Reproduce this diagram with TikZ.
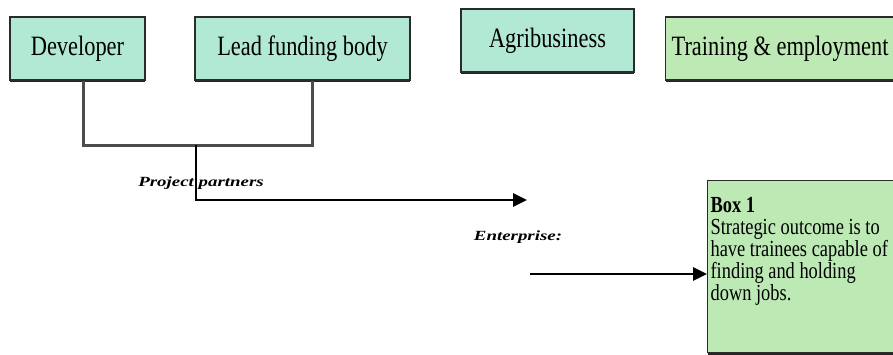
\documentclass[tikz,border=0pt]{standalone}
\usepackage{fontspec}
\setmainfont{Liberation Serif}[FakeStretch=0.8]
\newfontfamily\labelfont{Liberation Serif}[FakeStretch=1.35]
\usetikzlibrary{arrows.meta,shadows}

\definecolor{mintfill}{HTML}{B2E9D5}
\definecolor{greenfill}{HTML}{BDE9B5}
\definecolor{edgegray}{HTML}{2B2B2B}

\tikzset{
  partnerbox/.style={draw=edgegray, line width=1.2pt, fill=mintfill,
    inner sep=0pt, font=\fontsize{28}{30}\selectfont,
    drop shadow={shadow xshift=0pt, shadow yshift=-2pt, fill=black!85, opacity=1}},
  outcomebox/.style={partnerbox, fill=greenfill},
  conn/.style={draw=black!70, line width=3pt},
  flow/.style={draw=black, line width=2.6pt, -{Triangle[length=14pt,width=13pt]}},
  flowlabel/.style={font=\labelfont\bfseries\itshape\fontsize{14}{15}\selectfont}
}

\begin{document}
\begin{tikzpicture}[x=1pt,y=-1pt]
\useasboundingbox (0,0) rectangle (893,354);
\clip (0,0) rectangle (893,354);

% Partner boxes
\node[partnerbox, minimum width=135pt, minimum height=63pt] (dev) at (77.5,48.5) {Developer};
\node[partnerbox, minimum width=215pt, minimum height=63pt] (lead) at (302.5,48.5) {Lead funding body};
\node[partnerbox, minimum width=173pt, minimum height=63pt] (agri) at (547.5,40.5) {Agribusiness};
\node[outcomebox, anchor=west, inner xsep=6pt, minimum height=63pt] (train) at (665,48.5) {Training \& employment};

% Outcome box
\node[outcomebox, anchor=north west, inner xsep=3pt, inner ysep=0pt, align=left] (box1) at (707,180)
  {\parbox[t][172pt][t]{190pt}{\fontsize{23}{22}\selectfont
   \vspace*{17pt}
   \textbf{Box 1}\\
   Strategic outcome is to\\
   have trainees capable of\\
   finding and holding\\
   down jobs.}};

% Coordinates
\coordinate (join) at (196,145);
\coordinate (ent) at (527,200);
\coordinate (src) at (530,274);

% Partners join up
\draw[conn] ([xshift=6pt]dev.south) |- (join) -| ([xshift=10pt]lead.south);
\draw[flow] (join) |- (ent);
\draw[flow] (src) -- (src -| box1.west);

% Labels
\node[flowlabel] (partners) at (201,183) {Project partners};
\node[flowlabel] (enterprise) at (518,237) {Enterprise:};
\end{tikzpicture}
\end{document}
